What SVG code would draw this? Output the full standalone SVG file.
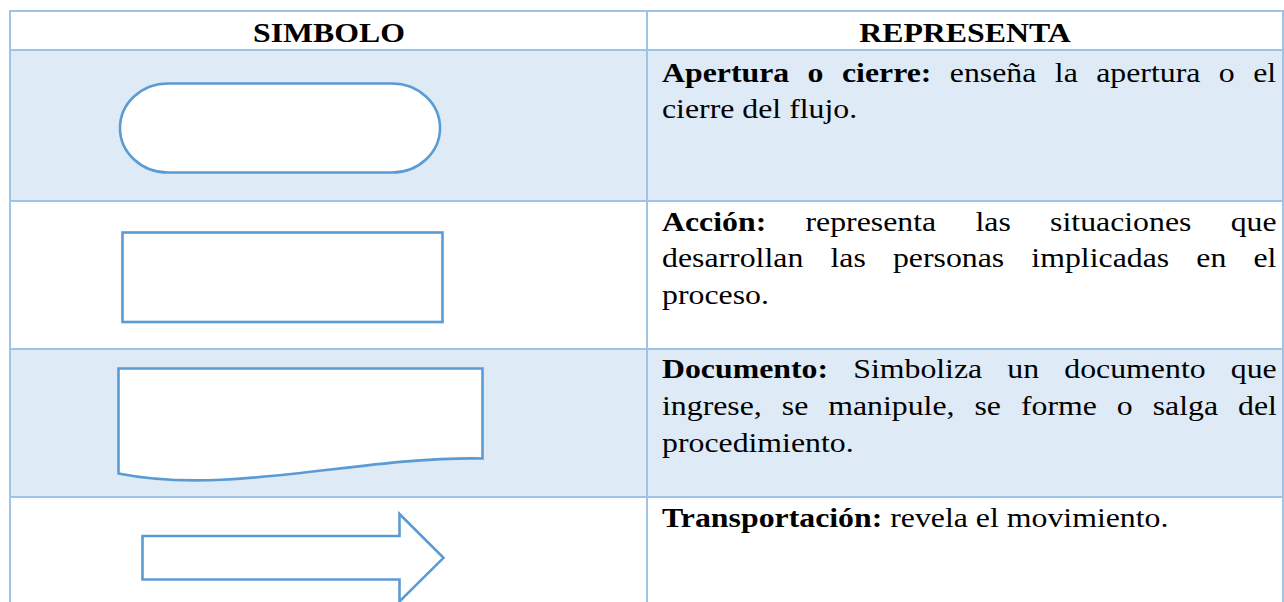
<svg xmlns="http://www.w3.org/2000/svg" width="1284" height="602" viewBox="0 0 1284 602">
<style>
.band{fill:#DEEAF6}
.grid{stroke:#9DC3E6;stroke-width:2;fill:none}
.sym{fill:#FFFFFF;stroke:#5B9BD5;stroke-width:2.6;stroke-linejoin:miter}
.t{font-family:"Liberation Serif","Times New Roman",serif;font-size:27px;fill:#000}
.b{font-weight:bold}
</style>
<rect x="0" y="0" width="1284" height="602" fill="#FFFFFF"/>
<g id="table">
  <rect class="band" x="10" y="50" width="1273" height="151"/>
  <rect class="band" x="10" y="349" width="1273" height="148"/>
  <line class="grid" x1="9" y1="11" x2="1284" y2="11"/>
  <line class="grid" x1="10" y1="10" x2="10" y2="602"/>
  <line class="grid" x1="647" y1="10" x2="647" y2="602"/>
  <line class="grid" x1="1283" y1="10" x2="1283" y2="602"/>
  <line class="grid" x1="9" y1="50" x2="1284" y2="50" stroke-width="3.2"/>
  <line class="grid" x1="9" y1="201" x2="1284" y2="201" stroke-width="1.6"/>
  <line class="grid" x1="9" y1="349" x2="1284" y2="349" stroke-width="1.6"/>
  <line class="grid" x1="9" y1="497" x2="1284" y2="497" stroke-width="1.6"/>
</g>
<g id="header">
  <text class="t b" text-anchor="middle" transform="matrix(1.178 0 0 1 329 41.5)">SIMBOLO</text>
  <text class="t b" text-anchor="middle" transform="matrix(1.178 0 0 1 965 41.5)">REPRESENTA</text>
</g>
<g id="apertura">
  <rect class="sym" x="120" y="83.5" width="320" height="89" rx="48" ry="44.5"/>
  <text class="t" transform="matrix(1.178 0 0 1 662 81.7)" word-spacing="8.9"><tspan class="b">Apertura o cierre:</tspan> enseña la apertura o el</text>
  <text class="t" transform="matrix(1.178 0 0 1 662 118.3)">cierre del flujo.</text>
</g>
<g id="accion">
  <rect class="sym" x="122.5" y="232.5" width="320" height="89.5"/>
  <text class="t" transform="matrix(1.178 0 0 1 662 230.7)" word-spacing="26.6"><tspan class="b">Acción:</tspan> representa las situaciones que</text>
  <text class="t" transform="matrix(1.178 0 0 1 662 267.3)" word-spacing="16.3">desarrollan las personas implicadas en el</text>
  <text class="t" transform="matrix(1.178 0 0 1 662 304)">proceso.</text>
</g>
<g id="documento">
  <path class="sym" d="M118.5,368.5 H482.5 V458.5 C360,456 230,496 118.5,473.5 Z"/>
  <text class="t" transform="matrix(1.178 0 0 1 662 378.3)" word-spacing="14.6"><tspan class="b">Documento:</tspan> Simboliza un documento que</text>
  <text class="t" transform="matrix(1.178 0 0 1 662 415)" word-spacing="10.2">ingrese, se manipule, se forme o salga del</text>
  <text class="t" transform="matrix(1.178 0 0 1 662 451.7)">procedimiento.</text>
</g>
<g id="transportacion">
  <polygon class="sym" points="142.5,536 399.5,536 399.5,514 443.5,557.8 399.5,601.5 399.5,579.5 142.5,579.5"/>
  <text class="t" transform="matrix(1.178 0 0 1 662 527)"><tspan class="b">Transportación:</tspan> revela el movimiento.</text>
</g>
</svg>
